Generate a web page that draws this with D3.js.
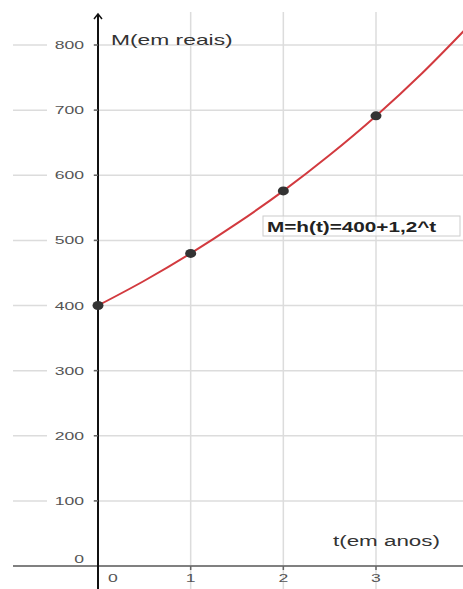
<!DOCTYPE html>
<html>
<head>
<meta charset="utf-8">
<script src="https://cdn.jsdelivr.net/npm/d3@7"></script>
<style>
  body { margin: 0; background: #fff; }
  svg { display: block; font-family: "Liberation Sans", Arial, sans-serif; }
</style>
</head>
<body>
<svg id="chart" width="463" height="589"></svg>
<script>
// pontos marcados (anos, montante)
const tYears = [0, 1, 2, 3];
const montante = [400, 480, 576, 691.2];
// curva
const curveT = [0, 0.5, 1, 1.5, 2, 2.5, 3, 3.5, 3.95];
const curveM = [400, 438, 480, 526, 576, 631, 691, 757, 822];
const yTicks = [100, 200, 300, 400, 500, 600, 700, 800];
const xTicks = [1, 2, 3];
const yLabel = "M(em reais)";
const xLabel = "t(em anos)";
const formula = "M=h(t)=400+1,2^t";

const width = 463, height = 589;
const svg = d3.select("#chart");

let x = d3.scaleLinear().domain([0, 3]).range([98, 376]);
let y = d3.scaleLinear().domain([0, 800]).range([566, 45]);

const gridColor = "#dcdcdc";
const gridLeft = 13, gridTop = 12;

// texto esticado na horizontal (a figura original esta alargada)
function wideText(g, tx, ty, txt, size, sx, anchor) {
  return g.append("text")
    .attr("transform", `translate(${tx},${ty}) scale(${sx},1)`)
    .attr("text-anchor", anchor || "start")
    .attr("font-size", size)
    .text(txt);
}

// grid verticais
svg.append("g").selectAll("line").data(xTicks).join("line")
  .attr("x1", d => x(d)).attr("x2", d => x(d))
  .attr("y1", gridTop).attr("y2", height)
  .attr("stroke", gridColor).attr("stroke-width", 1.5);

// grid horizontais
svg.append("g").selectAll("line").data(yTicks).join("line")
  .attr("x1", gridLeft).attr("x2", width)
  .attr("y1", d => y(d)).attr("y2", d => y(d))
  .attr("stroke", gridColor).attr("stroke-width", 1.5);

// eixo x
svg.append("line")
  .attr("x1", gridLeft).attr("x2", width)
  .attr("y1", y(0)).attr("y2", y(0))
  .attr("stroke", "#808080").attr("stroke-width", 2);

// eixo y com seta
svg.append("line")
  .attr("x1", x(0)).attr("x2", x(0))
  .attr("y1", 15).attr("y2", height)
  .attr("stroke", "#111").attr("stroke-width", 2);
svg.append("path")
  .attr("d", `M${x(0) - 4},${19} L${x(0)},${14} L${x(0) + 4},${19}`)
  .attr("fill", "none").attr("stroke", "#111").attr("stroke-width", 1.5);

// rotulos eixo y
const yl = svg.append("g");
yTicks.forEach(v => {
  yl.append("rect")
    .attr("x", 47).attr("y", y(v) - 7).attr("width", 46).attr("height", 14)
    .attr("fill", "#fff");
  yl.append("line")
    .attr("x1", x(0) - 4).attr("x2", x(0))
    .attr("y1", y(v)).attr("y2", y(v))
    .attr("stroke", "#666").attr("stroke-width", 1.5);
  wideText(yl, 84, y(v) + 4, v, 11, 1.6, "end").attr("fill", "#555");
});
wideText(svg, 84, y(0) - 3, "0", 11, 1.6, "end").attr("fill", "#555");

// rotulos eixo x
[0].concat(xTicks).forEach(v => {
  if (v > 0) {
    svg.append("line")
      .attr("x1", x(v)).attr("x2", x(v))
      .attr("y1", y(0)).attr("y2", y(0) + 4)
      .attr("stroke", "#666").attr("stroke-width", 1.5);
  }
  wideText(svg, v === 0 ? x(0) + 15 : x(v), 582, v, 11, 1.6, "middle").attr("fill", "#555");
});

// titulos dos eixos
wideText(svg, 111, 45, yLabel, 14, 1.63).attr("fill", "#333");
wideText(svg, 333, 546, xLabel, 14, 1.6).attr("fill", "#333");

// curva
const line = d3.line()
  .x((d, i) => x(curveT[i]))
  .y(d => y(d))
  .curve(d3.curveMonotoneX);
svg.append("path")
  .datum(curveM)
  .attr("d", line)
  .attr("fill", "none")
  .attr("stroke", "#d23a3f")
  .attr("stroke-width", 2);

// pontos
svg.append("g").selectAll("ellipse").data(montante).join("ellipse")
  .attr("cx", (d, i) => x(tYears[i]))
  .attr("cy", d => y(d))
  .attr("rx", 5.5).attr("ry", 4.5)
  .attr("fill", "#333");

// caixa da formula
const fx = 263, fy = 216;
svg.append("rect")
  .attr("x", fx).attr("y", fy).attr("width", 197).attr("height", 20)
  .attr("fill", "#fff").attr("fill-opacity", 0.6)
  .attr("stroke", "#ccc").attr("stroke-width", 1);
wideText(svg, fx + 4, fy + 16, formula, 14, 1.48).attr("font-weight", "bold").attr("fill", "#222");
</script>
</body>
</html>
